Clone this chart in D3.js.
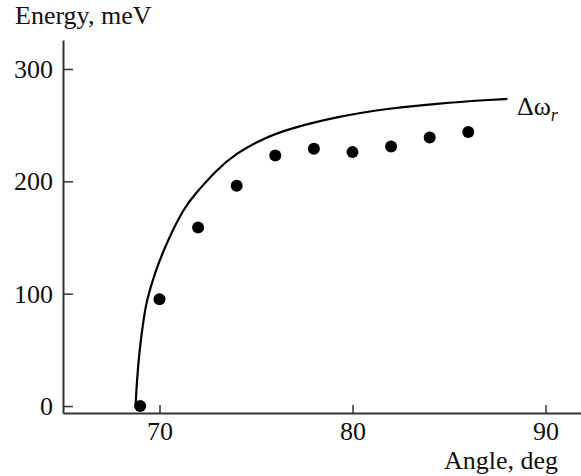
<!DOCTYPE html>
<html>
<head>
<meta charset="utf-8">
<script src="https://cdn.jsdelivr.net/npm/d3@7"></script>
<style>
  body { margin: 0; background: #fff; }
  svg text { font-family: "Liberation Serif", "Times New Roman", serif; fill: #111; }
</style>
</head>
<body>
<div id="chart"></div>
<script>
// Measured points (angle in deg, energy in meV)
var pointAngles = [69, 70, 72, 74, 76, 78, 80, 82, 84, 86];
var pointEnergies = [0, 95, 159, 196, 223, 229, 226, 231, 239, 244];

// Theoretical curve
var curveAngles = [68.76, 68.82, 68.96, 69.19, 69.34, 69.74, 70.43, 71.3, 71.81, 72.94, 73.97, 75.35, 76.74, 79.33, 81.92, 84.5, 87.1, 88.03];
var curveEnergies = [0, 20, 50, 79, 94, 118, 148, 177, 188, 210, 225, 238, 247, 258, 265, 269.5, 272.5, 273.4];

var xTicks = [70, 80, 90];
var yTicks = [0, 100, 200, 300];

var width = 581;
var height = 476;
var fontFamily = '"Liberation Serif", "Times New Roman", serif';
var fontSize = 26;

var x = d3.scaleLinear()
          .domain([65, 91.84])
          .range([63, 581]);

var y = d3.scaleLinear()
          .domain([-6.2, 325.8])
          .range([413, 40]);

var svg = d3.select('#chart')
            .append('svg')
            .attr('width', width)
            .attr('height', height);

// Axes
var xAxis = d3.axisBottom(x)
              .tickValues(xTicks)
              .tickSizeInner(-8)
              .tickSizeOuter(0)
              .tickPadding(9)
              .tickFormat(d3.format('d'));

var yAxis = d3.axisLeft(y)
              .tickValues(yTicks)
              .tickSizeInner(-10)
              .tickSizeOuter(0)
              .tickPadding(10)
              .tickFormat(d3.format('d'));

var gx = svg.append('g')
            .attr('transform', 'translate(0,' + y.range()[0] + ')')
            .call(xAxis);

var gy = svg.append('g')
            .attr('transform', 'translate(' + x.range()[0] + ',0)')
            .call(yAxis);

[gx, gy].forEach(function (g) {
  g.attr('font-family', fontFamily).attr('font-size', fontSize);
  g.selectAll('.domain').attr('stroke', '#333').attr('stroke-width', 2);
  g.selectAll('.tick line').attr('stroke', '#333').attr('stroke-width', 1.5);
  g.selectAll('.tick text').attr('fill', '#111');
});

// Axis titles
svg.append('text')
   .attr('x', 15)
   .attr('y', 24)
   .style('font-size', fontSize + 'px')
   .text('Energy, meV');

svg.append('text')
   .attr('x', 558)
   .attr('y', 469)
   .attr('text-anchor', 'end')
   .style('font-size', fontSize + 'px')
   .text('Angle, deg');

// Curve
var curveData = curveAngles.map(function (a, i) {
  return { x: a, y: curveEnergies[i] };
});

var line = d3.line()
             .x(function (d) { return x(d.x); })
             .y(function (d) { return y(d.y); })
             .curve(d3.curveBasis);

svg.append('path')
   .datum(curveData)
   .attr('d', line)
   .attr('fill', 'none')
   .attr('stroke', '#000')
   .attr('stroke-width', 2.2);

// Curve label
var label = svg.append('text')
               .attr('x', 517)
               .attr('y', 115)
               .style('font-size', fontSize + 'px');
label.append('tspan').text('\u0394\u03c9');
label.append('tspan')
     .attr('dy', 6)
     .style('font-size', '18px')
     .style('font-style', 'italic')
     .text('r');

// Points
svg.append('g')
   .selectAll('circle')
   .data(pointAngles)
   .enter()
   .append('circle')
   .attr('cx', function (d) { return x(d); })
   .attr('cy', function (d, i) { return y(pointEnergies[i]); })
   .attr('r', 6)
   .attr('fill', '#000');
</script>
</body>
</html>
